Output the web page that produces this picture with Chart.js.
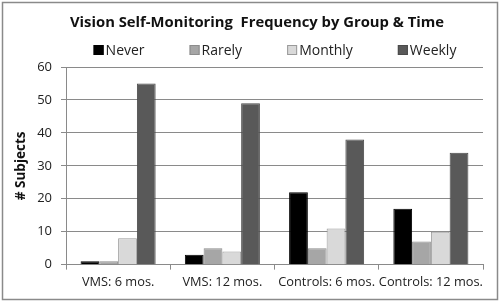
<!DOCTYPE html>
<html><head><meta charset="utf-8">
<script src="https://cdn.jsdelivr.net/npm/chart.js@4.4.1/dist/chart.umd.min.js"></script>
<style>html,body{margin:0;padding:0;background:#fff}#wrap{width:500px;height:302px;position:relative}</style>
</head><body><div id="wrap"><canvas id="c" width="500" height="302"></canvas></div>
<script>
const categories = ["VMS: 6 mos.", "VMS: 12 mos.", "Controls: 6 mos.", "Controls: 12 mos."];
const never = [1, 3, 22, 17];
const rarely = [1, 5, 5, 7];
const monthly = [8, 4, 11, 10];
const weekly = [55, 49, 38, 34];
const yTicks = [0, 10, 20, 30, 40, 50, 60];
const titleText = 'Vision Self-Monitoring  Frequency by Group & Time';

const FONT = "'Open Sans', 'Noto Sans', sans-serif";
const decorPlugin = {
  id: 'decor',
  afterDraw(chart) {
    const ctx = chart.ctx;
    ctx.save();
    // outer frame
    ctx.strokeStyle = '#8a8a8a';
    ctx.lineWidth = 1.5;
    ctx.strokeRect(2.5, 2.5, chart.width - 5, chart.height - 5);
    // title
    ctx.fillStyle = '#111';
    ctx.font = 'bold 14.8px ' + FONT;
    ctx.textAlign = 'center';
    ctx.textBaseline = 'middle';
    ctx.fillText(titleText, 257, 23);
    // legend
    ctx.font = '14px ' + FONT;
    ctx.textAlign = 'left';
    const box = 10, gapBox = 2, gap = 45;
    const items = chart.data.datasets.map(d => ({t: d.label, c: d.backgroundColor, b: d.borderColor}));
    const widths = items.map(it => box + gapBox + ctx.measureText(it.t).width);
    const total = widths.reduce((a, b) => a + b, 0) + gap * (items.length - 1);
    let x = 275 - total / 2;
    const y = 50;
    items.forEach((it, i) => {
      ctx.fillStyle = it.c;
      ctx.fillRect(x, y - box / 2, box, box);
      ctx.strokeStyle = it.b;
      ctx.lineWidth = 1;
      ctx.strokeRect(x + 0.5, y - box / 2 + 0.5, box - 1, box - 1);
      ctx.fillStyle = '#222';
      ctx.fillText(it.t, x + box + gapBox, y + 1);
      x += widths[i] + gap;
    });
    ctx.restore();
  }
};
const mk = (label, data, bg, bd) => ({label, data, backgroundColor: bg, borderColor: bd, borderWidth: 1});
new Chart(document.getElementById('c'), {
  type: 'bar',
  data: {
    labels: categories,
    datasets: [
      mk('Never', never, '#000000', '#000000'),
      mk('Rarely', rarely, '#a6a6a6', '#8c8c8c'),
      mk('Monthly', monthly, '#d9d9d9', '#9a9a9a'),
      mk('Weekly', weekly, '#595959', '#4a4a4a')
    ]
  },
  options: {
    responsive: false,
    animation: false,
    devicePixelRatio: 1,
    layout: {padding: {left: 10, right: 17, top: 67, bottom: 7}},
    datasets: {bar: {categoryPercentage: 0.72, barPercentage: 1}},
    plugins: {
      title: {display: false},
      legend: {display: false},
      tooltip: {enabled: false}
    },
    scales: {
      x: {
        grid: {drawOnChartArea: false, drawTicks: true, tickLength: 5, color: '#8a8a8a', offset: true},
        border: {color: '#8a8a8a'},
        ticks: {color: '#222', font: {family: FONT, size: 12.8}, padding: 5, maxRotation: 0, autoSkip: false}
      },
      y: {
        min: 0, max: 60,
        afterBuildTicks(scale) { scale.ticks = yTicks.map(v => ({value: v})); },
        afterFit(scale) { scale.width = 56; },
        grid: {color: '#8a8a8a', tickLength: 5},
        border: {color: '#8a8a8a'},
        ticks: {color: '#222', font: {family: FONT, size: 13}, padding: 9},
        title: {display: true, text: '# Subjects', color: '#111', font: {family: FONT, size: 13.5, weight: 'bold'}, padding: {top: 3, bottom: 4}}
      }
    }
  },
  plugins: [decorPlugin]
});
</script></body></html>
